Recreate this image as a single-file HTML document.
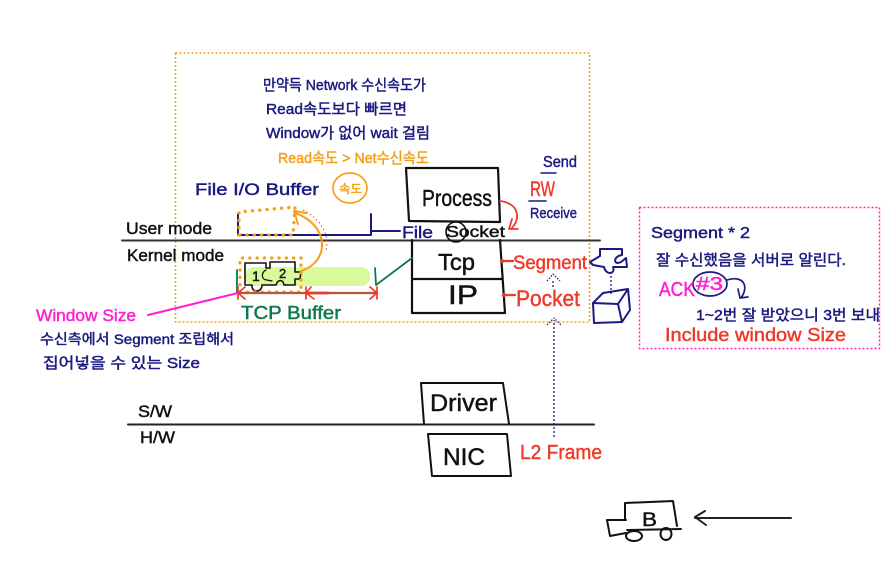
<!DOCTYPE html>
<html><head><meta charset="utf-8"><style>
html,body{margin:0;padding:0;background:#fff}
svg{display:block}
text{font-family:"Liberation Sans","Noto Sans CJK KR",sans-serif;stroke-width:.45}
.n{fill:#1a1a80;stroke:#1a1a80}.k{fill:#111;stroke:#111}.r{fill:#ee3a2a;stroke:#ee3a2a}.o{fill:#f5a015;stroke:#f5a015}.m{fill:#ff1fd0;stroke:#ff1fd0}.g{fill:#0c7a4c;stroke:#0c7a4c}
</style></head><body>
<svg width="894" height="581" viewBox="0 0 894 581" xmlns="http://www.w3.org/2000/svg">
<g fill="none" stroke-linecap="round" stroke-linejoin="round">
<rect x="175.500" y="53" width="414" height="269" stroke="#f5a015" stroke-width="1.500" stroke-dasharray="2 2" stroke-linecap="butt"/>
<rect x="639.500" y="207.500" width="240" height="141" stroke="#ff1fd0" stroke-width="1.500" stroke-dasharray="2 2" stroke-linecap="butt"/>
<path d="M122 240.500H600" stroke="#333" stroke-width="2"/>
<path d="M128 424.500H594" stroke="#222" stroke-width="2"/>
<path d="M406 168H498L500 222 409 221Z" stroke="#111" stroke-width="2.200"/>
<path d="M412 240V313H505L500 240M412 279H502" stroke="#111" stroke-width="2.200"/>
<path d="M424 424L421 383H503L509 424" stroke="#111" stroke-width="2"/>
<path d="M428 434H507L511 476H432Z" stroke="#111" stroke-width="2"/>
<rect x="245" y="267" width="125" height="19" rx="9" fill="#d8fa9a"/>
<path d="M245 263H266V268H270V262H295V272L301 272 300 279 295 279V285H284C283 279 278 279 276 285H262C262 293 251 293 252 285H245Z" stroke="#111" stroke-width="1.600"/>
<path d="M266 270C261 272 261 280 267 280L272 281" stroke="#111" stroke-width="1.300"/>
<path d="M238 214V235H371V214M371 231H400" stroke="#1a1a80" stroke-width="2"/>
<path d="M239 235V212L295 207 293 235H239" stroke="#f5a015" stroke-width="3.300" stroke-dasharray=".1 7.200"/>
<path d="M240 292V258H301V292H240" stroke="#f5a015" stroke-width="3.300" stroke-dasharray=".1 7.200"/>
<path d="M301 271C330 262 330 225 295 213M294 211L306 213M294 211L298 224" stroke="#f5a015" stroke-width="2"/>
<path d="M303 210C320 218 330 235 326 250" stroke="#ee3a2a" stroke-width="1" stroke-dasharray="1.500 2.500" stroke-linecap="butt"/>
<path d="M237 270V293" stroke="#0c7a4c" stroke-width="1.800"/>
<path d="M375 268L376 285 412 258" stroke="#0c7a4c" stroke-width="1.800"/>
<path d="M238 293H377" stroke="#b9553f" stroke-width="2.200"/><path d="M306 293H328" stroke="#ee3a2a" stroke-width="2.800"/>
<path d="M245 287L238 293 245 299M311 287L306 293 314 299M370 287L377 293 370 299M306 287V299M377 287V299M238 287V299" stroke="#ee3a2a" stroke-width="1.700"/>
<path d="M148 315L238 293" stroke="#ff1fd0" stroke-width="2"/>
<path d="M500 201C518 203 522 218 511 229M518 229L509 229 512 219" stroke="#ee3a2a" stroke-width="1.800"/>
<circle cx="456" cy="232" r="10" stroke="#111" stroke-width="1.600"/>
<path d="M541 173H556M529 201H546" stroke="#1a1a80" stroke-width="1.600"/>
<path d="M503 261H513M505 295H515" stroke="#ee3a2a" stroke-width="2.200"/>
<circle cx="502" cy="261" r="1.500" fill="#ee3a2a" stroke="#ee3a2a"/><circle cx="504" cy="295" r="1.500" fill="#ee3a2a" stroke="#ee3a2a"/>
<path d="M590 262L600 256V249H622V255C613 256 613 266 621 262L626 258 627 267H613C616 274 606 276 604 267L593 265Z" stroke="#1a1a80" stroke-width="2"/>
<path d="M593 303L618 304 622 322 594 323ZM593 303L603 293 628 289 630 310 622 322M618 304L628 289" stroke="#1a1a80" stroke-width="2"/>
<path d="M554 437V320M553 287V280M611 276V296" stroke="#1a1a80" stroke-width="1.300" stroke-dasharray="2 2" stroke-linecap="butt"/>
<path d="M547 325L554 318 561 325M547 281L553 274 560 281" stroke="#1a1a80" stroke-width="1.200" stroke-dasharray="1.500 1.500" stroke-linecap="butt"/>
<ellipse cx="350" cy="188" rx="17" ry="15" stroke="#f5a015" stroke-width="1.700"/>
<ellipse cx="710" cy="284" rx="17" ry="12" stroke="#1a1a80" stroke-width="1.700"/>
<path d="M727 280C742 275 750 285 741 298M738 289L740 298 748 297" stroke="#1a1a80" stroke-width="1.700"/>
<path d="M625 519V503L673 501 677 526M607 520H626M607 520L610 536 626 533M627 530L681 529" stroke="#111" stroke-width="2"/>
<ellipse cx="634" cy="536" rx="8" ry="5" stroke="#111" stroke-width="2"/>
<ellipse cx="666" cy="534" rx="5.500" ry="6" stroke="#111" stroke-width="2"/>
<path d="M791 518H695M705 511L695 517 706 525" stroke="#222" stroke-width="2"/>
</g>
<text class="n" x="263" y="90" font-size="15" textLength="163" lengthAdjust="spacingAndGlyphs">만약득 Network 수신속도가</text>
<text class="n" x="266" y="114" font-size="15" textLength="141" lengthAdjust="spacingAndGlyphs">Read속도보다 빠르면</text>
<text class="n" x="266" y="138" font-size="15" textLength="164" lengthAdjust="spacingAndGlyphs">Window가 없어 wait 걸림</text>
<text class="o" x="278" y="163" font-size="15" textLength="151" lengthAdjust="spacingAndGlyphs">Read속도 &gt; Net수신속도</text>
<text class="n" x="195" y="195" font-size="17" textLength="124" lengthAdjust="spacingAndGlyphs">File I/O Buffer</text>
<text class="o" x="339" y="193" font-size="12" textLength="23" lengthAdjust="spacingAndGlyphs">속도</text>
<text class="k" x="126" y="234" font-size="17" textLength="86" lengthAdjust="spacingAndGlyphs">User mode</text>
<text class="k" x="127" y="261" font-size="17" textLength="97" lengthAdjust="spacingAndGlyphs">Kernel mode</text>
<text class="n" x="402" y="238" font-size="17" textLength="31" lengthAdjust="spacingAndGlyphs">File</text>
<text class="k" x="446" y="237" font-size="16" textLength="59" lengthAdjust="spacingAndGlyphs">Socket</text>
<text class="k" x="422" y="206" font-size="23" textLength="70" lengthAdjust="spacingAndGlyphs">Process</text>
<text class="k" x="438" y="270" font-size="23" textLength="37" lengthAdjust="spacingAndGlyphs">Tcp</text>
<text class="k" x="448" y="304" font-size="27" textLength="30" lengthAdjust="spacingAndGlyphs">IP</text>
<text class="n" x="543" y="167" font-size="16" textLength="34" lengthAdjust="spacingAndGlyphs">Send</text>
<text class="r" x="530" y="196" font-size="21" textLength="25" lengthAdjust="spacingAndGlyphs">RW</text>
<text class="n" x="530" y="218" font-size="15" textLength="47" lengthAdjust="spacingAndGlyphs">Receive</text>
<text class="r" x="513" y="269" font-size="19" textLength="74" lengthAdjust="spacingAndGlyphs">Segment</text>
<text class="r" x="516" y="306" font-size="22" textLength="64" lengthAdjust="spacingAndGlyphs">Pocket</text>
<text class="k" x="252" y="281" font-size="14">1</text>
<text class="k" x="279" y="278" font-size="13">2</text>
<text class="m" x="36" y="321" font-size="17" textLength="100" lengthAdjust="spacingAndGlyphs">Window Size</text>
<text class="g" x="241" y="319" font-size="18" textLength="100" lengthAdjust="spacingAndGlyphs">TCP Buffer</text>
<text class="n" x="40" y="344" font-size="14" textLength="194" lengthAdjust="spacingAndGlyphs">수신측에서 Segment 조립해서</text>
<text class="n" x="43" y="368" font-size="15" textLength="157" lengthAdjust="spacingAndGlyphs">집어넣을 수 있는 Size</text>
<text class="k" x="138" y="417" font-size="17" textLength="34" lengthAdjust="spacingAndGlyphs">S/W</text>
<text class="k" x="140" y="443" font-size="17" textLength="35" lengthAdjust="spacingAndGlyphs">H/W</text>
<text class="k" x="430" y="411" font-size="24" textLength="67" lengthAdjust="spacingAndGlyphs">Driver</text>
<text class="k" x="443" y="465" font-size="24" textLength="42" lengthAdjust="spacingAndGlyphs">NIC</text>
<text class="r" x="520" y="459" font-size="20" textLength="82" lengthAdjust="spacingAndGlyphs">L2 Frame</text>
<text class="n" x="651" y="238" font-size="16" textLength="99" lengthAdjust="spacingAndGlyphs">Segment * 2</text>
<text class="n" x="656" y="265" font-size="15" textLength="190" lengthAdjust="spacingAndGlyphs">잘 수신했음을 서버로 알린다.</text>
<text class="m" x="659" y="296" font-size="20" textLength="36" lengthAdjust="spacingAndGlyphs">ACK</text>
<text class="m" x="696" y="290" font-size="18" textLength="27" lengthAdjust="spacingAndGlyphs">#3</text>
<text class="n" x="696" y="320" font-size="15" textLength="184" lengthAdjust="spacingAndGlyphs">1~2번 잘 받았으니 3번 보내</text>
<text class="r" x="665" y="341" font-size="18" textLength="181" lengthAdjust="spacingAndGlyphs">Include window Size</text>
<text class="k" x="642" y="526" font-size="19" textLength="15" lengthAdjust="spacingAndGlyphs">B</text>
</svg>
</body></html>
